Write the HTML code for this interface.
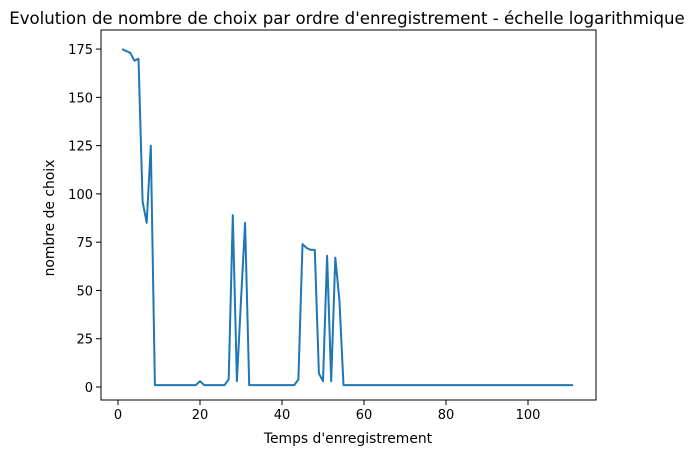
<!DOCTYPE html>
<html><head><meta charset="utf-8"><style>
body{margin:0;background:#fff;}
svg text{font-family:"DejaVu Sans","Liberation Sans",sans-serif;fill:#000;}
</style></head><body>
<svg id="chart" width="695" height="455" xmlns="http://www.w3.org/2000/svg">
<text x="347" y="24" font-size="16.6" text-anchor="middle">Evolution de nombre de choix par ordre d'enregistrement - échelle logarithmique</text>
<g id="axes"></g>
<text x="348" y="443" font-size="13.9" text-anchor="middle">Temps d'enregistrement</text>
<text x="54" y="218" font-size="13.9" text-anchor="middle" transform="rotate(-90 54 218)">nombre de choix</text>
</svg>
<script>
const xTicks=[0,20,40,60,80,100];
const yTicks=[0,25,50,75,100,125,150,175];
const head=[175,174,173,169,170,96,85,125,1,1,1,1,1,1,1,1,1,1,1,3,1,1,1,1,1,1,4,89,3,45,85,1,1,1,1,1,1,1,1,1,1,1,1,4,74,72,71,71,7,3,68,3,67,45];
const values=head.concat(Array(111-head.length).fill(1));
const L=101,R=596,T=30,B=400;
const sx=v=>118+v*4.1;
const sy=v=>387-v*1.931;
const ns="http://www.w3.org/2000/svg";
const g=document.getElementById('axes');
function mk(t,a){const e=document.createElementNS(ns,t);for(const k in a)e.setAttribute(k,a[k]);g.appendChild(e);return e;}
xTicks.forEach(v=>{
 const t=mk('line',{x1:sx(v),x2:sx(v),y1:B,y2:B+5,stroke:'#000'});
 
 
 const l=mk('text',{x:sx(v),y:B+19,'font-size':'13','text-anchor':'middle'});l.textContent=v;
 
 
});
yTicks.forEach(v=>{
 const t=mk('line',{x1:L-5,x2:L,y1:sy(v),y2:sy(v),stroke:'#000'});
 
 
 const l=mk('text',{x:L-8,y:sy(v)+5,'font-size':'13','text-anchor':'end'});l.textContent=v;
 
 
});
const p=mk('polyline',{points:values.map((v,i)=>sx(i+1)+','+sy(v)).join(' '),fill:'none',stroke:'#1f77b4','stroke-width':'2','stroke-linejoin':'round'});


const f=mk('rect',{x:L,y:T,width:R-L,height:B-T,fill:'none',stroke:'#000','stroke-width':'1'});


</script>
</body></html>
